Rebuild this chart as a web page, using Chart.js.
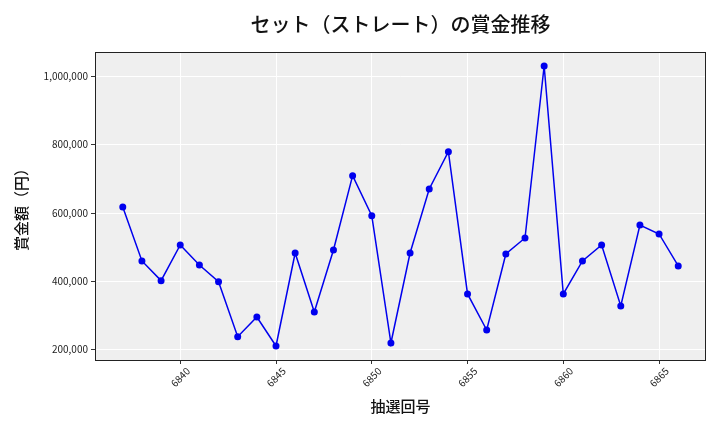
<!DOCTYPE html>
<html>
<head>
<meta charset="utf-8">
<script src="https://cdn.jsdelivr.net/npm/chart.js@4.4.1/dist/chart.umd.min.js"></script>
<style>
  html, body { margin: 0; padding: 0; background: #fff; }
  #wrap { width: 720px; height: 432px; }
</style>
</head>
<body>
<div id="wrap"><canvas id="chrt" width="720" height="432"></canvas></div>
<script>
// draw numbers (x) and prize per draw in yen (y)
let draws = [6837, 6838, 6839, 6840, 6841, 6842, 6843, 6844, 6845, 6846,
             6847, 6848, 6849, 6850, 6851, 6852, 6853, 6854, 6855, 6856,
             6857, 6858, 6859, 6860, 6861, 6862, 6863, 6864, 6865, 6866];
let prizes = [617700, 459600, 402000, 506400, 447900, 399000, 238000, 295600, 210700, 483000,
              310300, 491700, 709300, 592200, 219500, 483000, 670300, 779500, 363000, 257600,
              480000, 526900, 1030300, 363000, 459600, 506400, 327800, 564900, 538600, 445000];
let xTicks = [6840, 6845, 6850, 6855, 6860, 6865];
let yTicks = [200000, 400000, 600000, 800000, 1000000];

let titleText = 'セット（ストレート）の賞金推移';
let fontName = '"Noto Sans CJK JP", "Noto Sans", sans-serif';

let points = [];
for (let i = 0; i < draws.length; i++) {
    points.push({x: draws[i], y: prizes[i]});
}

// matplotlib style 5% margins
let xSpan = draws[draws.length - 1] - draws[0];
let yMin = Math.min(...prizes), yMax = Math.max(...prizes);
let ySpan = yMax - yMin;

let panel = {
    id: 'panel',
    beforeDraw(chart) {
        let a = chart.chartArea, ctx = chart.ctx;
        ctx.save();
        ctx.fillStyle = '#efefef';
        ctx.fillRect(a.left, a.top, a.right - a.left, a.bottom - a.top);
        ctx.restore();
    },
    afterDraw(chart) {
        let a = chart.chartArea, ctx = chart.ctx;
        ctx.save();
        ctx.strokeStyle = '#222';
        ctx.lineWidth = 1;
        ctx.strokeRect(a.left + 0.5, a.top + 0.5, a.right - a.left - 1, a.bottom - a.top);
        ctx.fillStyle = '#111';
        ctx.font = '500 20px ' + fontName;
        ctx.textAlign = 'center';
        ctx.textBaseline = 'middle';
        ctx.fillText(titleText, (a.left + a.right) / 2, 24);
        ctx.restore();
    }
};

let chrt = document.getElementById("chrt").getContext("2d");
let myLine = new Chart(chrt, {
    type: 'line',
    data: {
        datasets: [{
            data: points,
            borderColor: '#0000ee',
            backgroundColor: '#0000ee',
            borderWidth: 1.5,
            pointRadius: 3.5,
            pointBorderWidth: 0,
            tension: 0
        }]
    },
    options: {
        responsive: false,
        animation: false,
        layout: { padding: { top: 52, right: 14, left: 0, bottom: 0 } },
        plugins: {
            legend: { display: false },
            tooltip: { enabled: false }
        },
        scales: {
            x: {
                type: 'linear',
                min: draws[0] - xSpan * 0.05,
                max: draws[draws.length - 1] + xSpan * 0.05,
                afterBuildTicks: (s) => { s.ticks = xTicks.map(v => ({value: v})); },
                afterFit: (s) => { s.height = 72; },
                grid: { color: '#ffffff', lineWidth: 1, tickColor: '#333', tickLength: 4 },
                border: { display: false },
                ticks: {
                    minRotation: 45, maxRotation: 45,
                    labelOffset: 8,
                    padding: 1,
                    color: '#222',
                    font: { family: fontName, size: 10 },
                    callback: (v) => String(v)
                },
                title: {
                    display: true,
                    text: '抽選回号',
                    color: '#111',
                    font: { family: fontName, size: 15, weight: '500' },
                    padding: { top: 0, bottom: 17 }
                }
            },
            y: {
                min: yMin - ySpan * 0.05,
                max: yMax + ySpan * 0.05,
                afterBuildTicks: (s) => { s.ticks = yTicks.map(v => ({value: v})); },
                afterFit: (s) => { s.width = 95; },
                grid: { color: '#ffffff', lineWidth: 1, tickColor: '#333', tickLength: 4 },
                border: { display: false },
                ticks: {
                    padding: 3,
                    color: '#222',
                    font: { family: fontName, size: 10 },
                    callback: (v) => v.toLocaleString('en-US')
                },
                title: {
                    display: true,
                    text: '賞金額（円）',
                    color: '#111',
                    font: { family: fontName, size: 15, weight: '500' },
                    padding: { top: 12, bottom: 0 }
                }
            }
        }
    },
    plugins: [panel]
});
</script>
</body>
</html>
